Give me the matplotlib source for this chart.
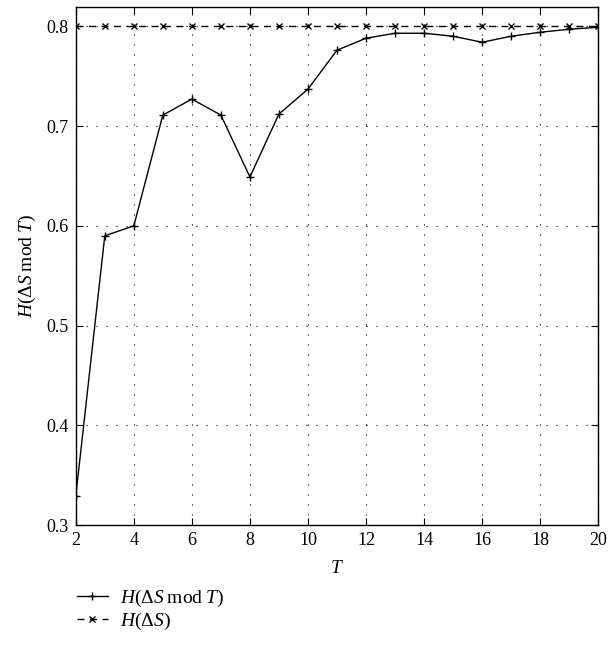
import matplotlib
matplotlib.use("Agg")
import matplotlib.pyplot as plt

# data
T = [2, 3, 4, 5, 6, 7, 8, 9, 10, 11, 12, 13, 14, 15, 16, 17, 18, 19, 20]
h_mod = [0.329, 0.590, 0.600, 0.711, 0.727, 0.711, 0.649, 0.712, 0.737, 0.776,
         0.788, 0.793, 0.793, 0.790, 0.784, 0.790, 0.794, 0.797, 0.799]
h_s = [0.8] * len(T)

xticks = [2, 4, 6, 8, 10, 12, 14, 16, 18, 20]
yticks = [0.3, 0.4, 0.5, 0.6, 0.7, 0.8]

plt.rcParams['font.family'] = ['Liberation Serif', 'DejaVu Serif']
plt.rcParams['mathtext.fontset'] = 'custom'
plt.rcParams['mathtext.rm'] = 'Liberation Serif'
plt.rcParams['mathtext.it'] = 'Liberation Serif:italic'
plt.rcParams['mathtext.bf'] = 'Liberation Serif:bold'

fig = plt.figure(figsize=(6.11, 6.64), dpi=100)
ax = fig.add_axes([0.124, 0.209, 0.855, 0.780])

ax.plot(T, h_mod, color='black', lw=1.0, marker='+', ms=6, mew=1.0,
        label=r'$H(\Delta S\;\mathrm{mod}\;T)$')
ax.plot(T, h_s, color='black', lw=1.0, ls=(0, (5, 4)), marker='x', ms=5, mew=1.0,
        label=r'$H(\Delta S)$')

ax.set_xlim(2, 20)
ax.set_ylim(0.3, 0.819)
ax.set_xticks(xticks)
ax.set_yticks(yticks)
ax.tick_params(direction='in', top=True, right=True, labelsize=13, length=5, pad=5)
ax.grid(True, color='black', ls=(0, (1, 8)), lw=0.8)
for s in ax.spines.values():
    s.set_linewidth(1.0)

ax.set_xlabel(r'$T$', fontsize=14, labelpad=8)
ax.set_ylabel(r'$H(\Delta S\;\mathrm{mod}\;T)$', fontsize=14, labelpad=6)

fig.legend(loc='upper left', bbox_to_anchor=(0.097, 0.141), frameon=False,
           fontsize=14, handlelength=1.6, handletextpad=0.6, labelspacing=0.1)

fig.savefig('out.png', dpi=100)
